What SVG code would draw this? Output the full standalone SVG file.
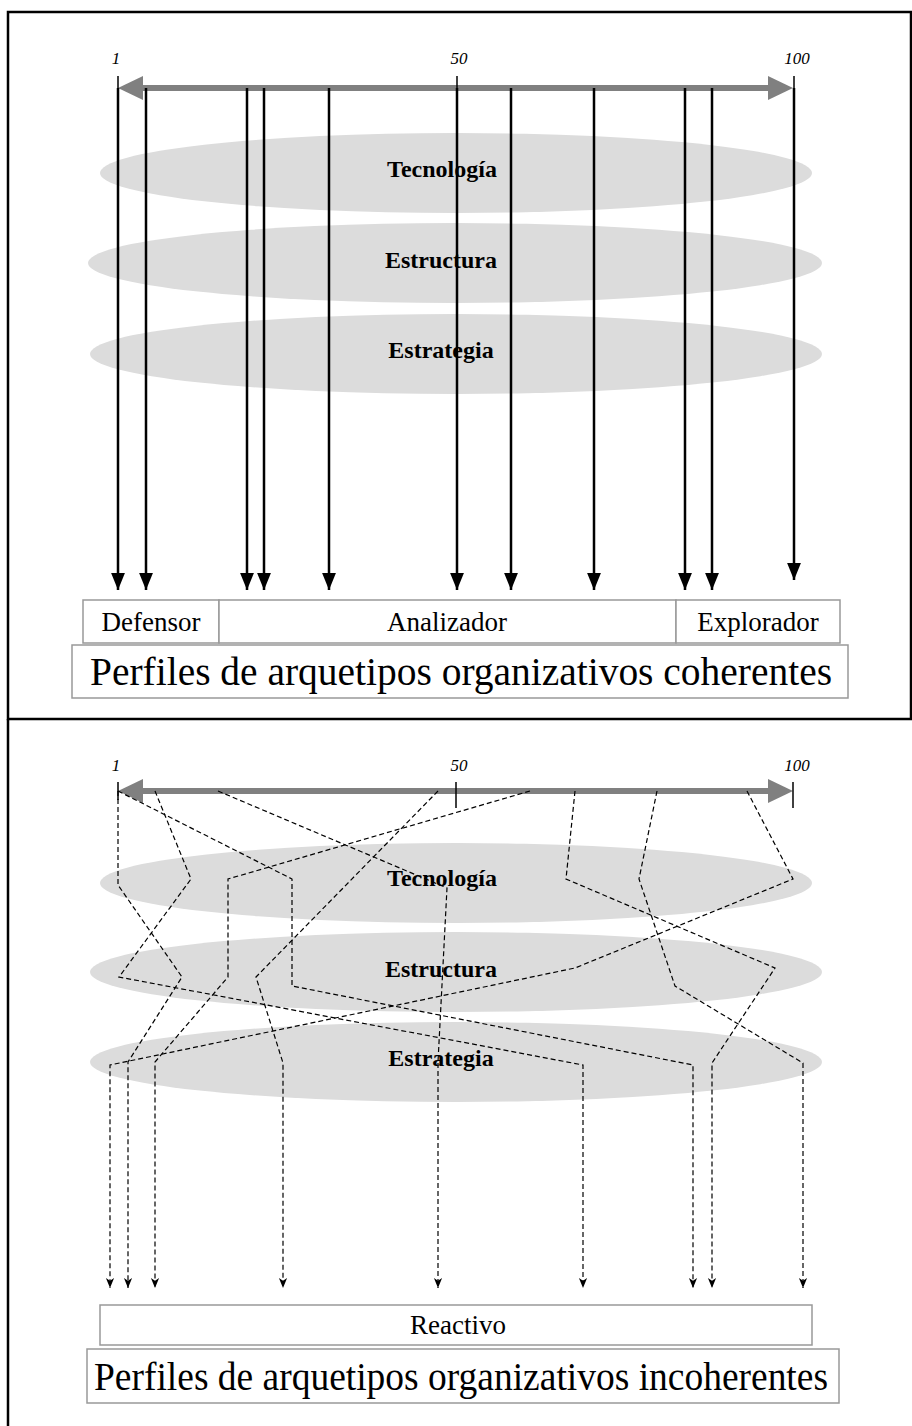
<svg xmlns="http://www.w3.org/2000/svg" width="912" height="1426" viewBox="0 0 912 1426">
  <style>
    .frame { fill: none; stroke: #000; stroke-width: 2.5; }
    .band { fill: #dcdcdc; }
    .band-label { font-family: "Liberation Serif", "Times New Roman", serif; font-weight: bold; font-size: 24px; text-anchor: middle; fill: #000; }
    .scale { font-family: "Liberation Serif", "Times New Roman", serif; font-style: italic; font-size: 17px; text-anchor: middle; fill: #000; }
    .axis { stroke: #808080; stroke-width: 6; fill: none; }
    .axis-head { fill: #808080; }
    .tick { stroke: #000; stroke-width: 1.5; }
    .solid { stroke: #000; stroke-width: 2.5; fill: none; }
    .dashed { stroke: #000; stroke-width: 1.2; fill: none; stroke-dasharray: 5 3; }
    .box { fill: #fff; stroke: #999; stroke-width: 1.5; }
    .box-label { font-family: "Liberation Serif", "Times New Roman", serif; font-size: 27px; text-anchor: middle; fill: #000; }
    .title { font-family: "Liberation Serif", "Times New Roman", serif; font-size: 39px; text-anchor: middle; fill: #000; }
  </style>
  <defs>
    <marker id="dashHead" markerUnits="userSpaceOnUse" markerWidth="10" markerHeight="12" refX="11" refY="4.5" orient="auto" viewBox="0 0 11 9">
      <path d="M0 0 L11 4.5 L0 9 L3 4.5 Z" fill="#000"/>
    </marker>
    <marker id="blkHead" markerUnits="userSpaceOnUse" markerWidth="17" markerHeight="14" refX="16" refY="6.5" orient="auto" viewBox="0 0 16 13">
      <path d="M0 0 L16 6.5 L0 13 Z" fill="#000"/>
    </marker>
  </defs>

  <!-- outer frame and divider -->
  <g id="frame">
    <rect class="frame" x="8" y="12" width="903" height="707"/>
    <line class="frame" x1="8" y1="719" x2="8" y2="1426"/>
  </g>

  <!-- ===== upper panel: coherent profiles ===== -->
  <g id="top-bands">
    <g id="top-tecnologia"><ellipse class="band" cx="456" cy="173" rx="356" ry="40"/></g>
    <g id="top-estructura"><ellipse class="band" cx="455" cy="263" rx="367" ry="40"/></g>
    <g id="top-estrategia"><ellipse class="band" cx="456" cy="354" rx="366" ry="40"/></g>
  </g>

  <g id="top-scale">
    <text class="scale" x="116" y="64">1</text>
    <text class="scale" x="459" y="64">50</text>
    <text class="scale" x="797" y="64">100</text>
    <line class="axis" x1="138" y1="88" x2="773" y2="88"/>
    <path class="axis-head" d="M118 88 L143 76 L143 100 Z"/>
    <path class="axis-head" d="M793 88 L768 76 L768 100 Z"/>
    <line class="tick" x1="118" y1="76" x2="118" y2="90"/>
    <line class="tick" x1="457" y1="76" x2="457" y2="102"/>
    <line class="tick" x1="794" y1="76" x2="794" y2="102"/>
  </g>

  <g id="top-connectors">
    <line class="solid" x1="118" y1="88" x2="118" y2="590" marker-end="url(#blkHead)"/>
    <line class="solid" x1="146" y1="88" x2="146" y2="590" marker-end="url(#blkHead)"/>
    <line class="solid" x1="247" y1="88" x2="247" y2="590" marker-end="url(#blkHead)"/>
    <line class="solid" x1="264" y1="88" x2="264" y2="590" marker-end="url(#blkHead)"/>
    <line class="solid" x1="329" y1="88" x2="329" y2="590" marker-end="url(#blkHead)"/>
    <line class="solid" x1="457" y1="88" x2="457" y2="590" marker-end="url(#blkHead)"/>
    <line class="solid" x1="511" y1="88" x2="511" y2="590" marker-end="url(#blkHead)"/>
    <line class="solid" x1="594" y1="88" x2="594" y2="590" marker-end="url(#blkHead)"/>
    <line class="solid" x1="685" y1="88" x2="685" y2="590" marker-end="url(#blkHead)"/>
    <line class="solid" x1="712" y1="88" x2="712" y2="590" marker-end="url(#blkHead)"/>
    <line class="solid" x1="794" y1="88" x2="794" y2="580" marker-end="url(#blkHead)"/>
  </g>

  <g id="top-band-labels">
    <text class="band-label" x="442" y="177">Tecnología</text>
    <text class="band-label" x="441" y="268">Estructura</text>
    <text class="band-label" x="441" y="358">Estrategia</text>
  </g>

  <g id="defensor">
    <rect class="box" x="83" y="600" width="136" height="43"/>
    <text class="box-label" x="151" y="631">Defensor</text>
  </g>
  <g id="analizador">
    <rect class="box" x="219" y="600" width="457" height="43"/>
    <text class="box-label" x="447" y="631">Analizador</text>
  </g>
  <g id="explorador">
    <rect class="box" x="676" y="600" width="164" height="43"/>
    <text class="box-label" x="758" y="631">Explorador</text>
  </g>
  <g id="coherentes">
    <rect class="box" x="72" y="645" width="776" height="53"/>
    <text class="title" x="461" y="685" textLength="742" lengthAdjust="spacingAndGlyphs">Perfiles de arquetipos organizativos coherentes</text>
  </g>

  <!-- ===== lower panel: incoherent profiles ===== -->
  <g id="bottom-bands">
    <g id="bottom-tecnologia"><ellipse class="band" cx="456" cy="883" rx="356" ry="40"/></g>
    <g id="bottom-estructura"><ellipse class="band" cx="456" cy="972" rx="366" ry="40"/></g>
    <g id="bottom-estrategia"><ellipse class="band" cx="456" cy="1062" rx="366" ry="40"/></g>
  </g>

  <g id="bottom-scale">
    <text class="scale" x="116" y="771">1</text>
    <text class="scale" x="459" y="771">50</text>
    <text class="scale" x="797" y="771">100</text>
    <line class="axis" x1="138" y1="791" x2="773" y2="791"/>
    <path class="axis-head" d="M118 791 L143 779 L143 803 Z"/>
    <path class="axis-head" d="M793 791 L768 779 L768 803 Z"/>
    <line class="tick" x1="118" y1="782" x2="118" y2="800"/>
    <line class="tick" x1="456" y1="782" x2="456" y2="808"/>
    <line class="tick" x1="793" y1="782" x2="793" y2="808"/>
  </g>

  <g id="bottom-connectors">
    <polyline class="dashed" points="118,791 118,885 182,977 128,1062 128,1288" marker-end="url(#dashHead)"/>
    <polyline class="dashed" points="155,791 191,879 119,977 583,1065 583,1288" marker-end="url(#dashHead)"/>
    <polyline class="dashed" points="218,791 447,888 438,1062 438,1288" marker-end="url(#dashHead)"/>
    <polyline class="dashed" points="118,791 292,879 292,986 693,1065 693,1288" marker-end="url(#dashHead)"/>
    <polyline class="dashed" points="438,791 256,977 283,1063 283,1288" marker-end="url(#dashHead)"/>
    <polyline class="dashed" points="530,791 228,879 228,977 155,1062 155,1288" marker-end="url(#dashHead)"/>
    <polyline class="dashed" points="575,791 566,879 775,968 712,1063 712,1288" marker-end="url(#dashHead)"/>
    <polyline class="dashed" points="657,791 639,879 675,986 803,1063 803,1288" marker-end="url(#dashHead)"/>
    <polyline class="dashed" points="747,791 793,879 575,968 110,1065 110,1288" marker-end="url(#dashHead)"/>
  </g>

  <g id="bottom-band-labels">
    <text class="band-label" x="442" y="886">Tecnología</text>
    <text class="band-label" x="441" y="977">Estructura</text>
    <text class="band-label" x="441" y="1066">Estrategia</text>
  </g>

  <g id="reactivo">
    <rect class="box" x="100" y="1305" width="712" height="40"/>
    <text class="box-label" x="458" y="1334">Reactivo</text>
  </g>
  <g id="incoherentes">
    <rect class="box" x="87" y="1349" width="752" height="54"/>
    <text class="title" x="461" y="1390" textLength="734" lengthAdjust="spacingAndGlyphs">Perfiles de arquetipos organizativos incoherentes</text>
  </g>
</svg>
